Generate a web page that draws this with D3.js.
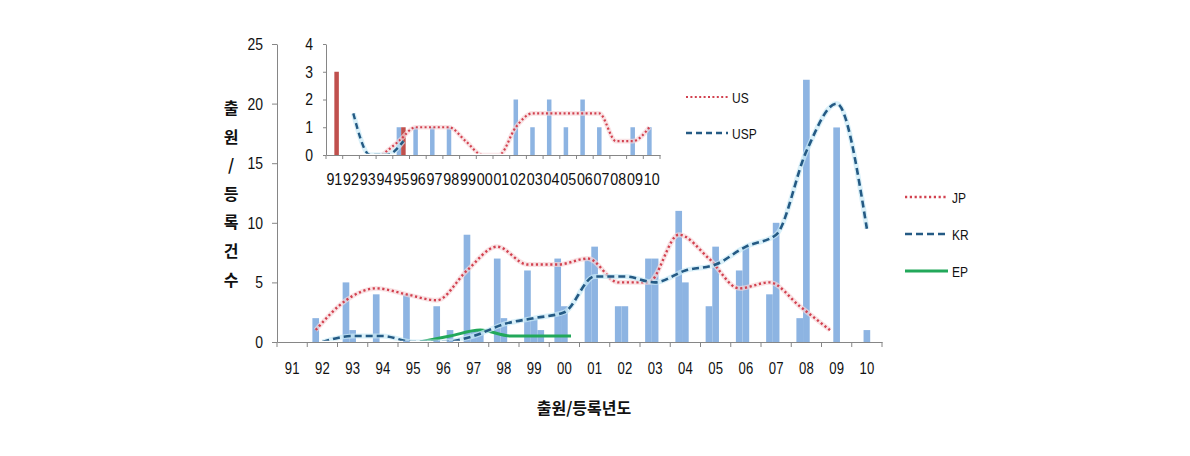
<!DOCTYPE html>
<html><head><meta charset="utf-8">
<script src="https://cdn.jsdelivr.net/npm/d3@7"></script>
<style>
html,body{margin:0;padding:0;background:#fff;}
svg{display:block;}
.num{font-family:"Liberation Sans","DejaVu Sans",sans-serif;fill:#111;}
.kr{font-family:"Noto Sans CJK KR","Noto Sans",sans-serif;fill:#111;font-weight:bold;}
</style></head>
<body><svg id="c" width="1190" height="456"></svg>
<script>
// ---- main chart data ----
const years = ["91","92","93","94","95","96","97","98","99","00","01","02","03","04","05","06","07","08","09","10"];
const seriesNames = ["JP","KR","EP"];
const jpBars = [0,2,5,4,4,3,9,7,6,7,7,3,7,11,3,6,4,2,0,null];
const krBars = [0,0,1,0,0,0,1,2,2,3,8,3,7,5,8,8,10,22,18,1];
const epBars = [null,null,null,0,0,1,1,0,1,0,null,null,null,null,null,null,null,null,null,null];
const jpLine = [null,1,3.5,4.5,4,3.5,6,8,6.5,6.5,7,5,5,9,7,4.5,5,3,1,null];
const krLine = [null,0,0.5,0.5,0,0,0.5,1.5,2,2.5,5.5,5.5,5,6,6.5,8,9,16,20,9.5];
const epLine = [null,null,null,null,0,0.5,1,0.5,0.5,0.5,null,null,null,null,null,null,null,null,null,null];
const yTicks = [0,5,10,15,20,25];
const yTitle = ["출","원","/","등","록","건","수"];
const xTitle = "출원/등록년도";
// ---- inset data ----
const insetNames = ["US","USP"];
const usBars  = [0,0,0,0,1,1,1,1,0,0,0,2,1,2,1,2,1,0,1,1];
const uspBars = [3,0,0,0,1,null,null,null,null,null,null,null,null,null,null,null,null,null,null,null];
const usLine  = [null,null,null,0,0.5,1,1,1,0.5,0,0,1,1.5,1.5,1.5,1.5,1.5,0.5,0.5,1];
const uspLine = [null,1.5,0,0,0.5,null,null,null,null,null,null,null,null,null,null,null,null,null,null,null];
const insetYTicks = [0,1,2,3,4];

const BAR = "#8DB4E2", RED = "#C0504D", AXIS = "#868686";
const JPC = "#D2414F", KRC = "#245A84", EPC = "#22A85A";

const svg = d3.select("#c");

function narrow(sel, f) {
  sel.each(function () {
    const w = this.getComputedTextLength();
    d3.select(this).attr("textLength", w * f).attr("lengthAdjust", "spacingAndGlyphs");
  });
}

// ================= MAIN =================
const x0 = d3.scaleBand().domain(years).range([277, 882]).paddingInner(0.34).paddingOuter(0.17);
const x1 = d3.scaleBand().domain(seriesNames).range([0, x0.bandwidth()]);
const y = d3.scaleLinear().domain([0, 25]).range([342, 44]);

const barSets = [["JP", jpBars], ["KR", krBars], ["EP", epBars]];
const gBars = svg.append("g");
barSets.forEach(([s, arr]) => {
  gBars.selectAll(null).data(years.map((yr, i) => ({yr, v: arr[i]})).filter(d => d.v))
    .enter().append("rect")
    .attr("x", d => x0(d.yr) + x1(s))
    .attr("width", x1.bandwidth())
    .attr("y", d => y(d.v))
    .attr("height", d => y(0) - y(d.v))
    .attr("fill", BAR);
});

svg.append("defs").html(
  '<clipPath id="mclip"><rect x="270" y="20" width="640" height="' + (y(0) - 21.2) + '"/></clipPath>' +
  '<clipPath id="iclip"><rect x="320" y="30" width="350" height="' + (155 - 31.2) + '"/></clipPath>');

function drawLine(g, xs, ys, names, s, arr, color, width, dash, halo) {
  const pts = years.map((yr, i) => ({yr, v: arr[i]})).filter(d => d.v !== null);
  const gen = d3.line().x(d => xs(d.yr) + names(s) + names.bandwidth() / 2).y(d => ys(d.v))
    .curve(d3.curveMonotoneX);
  if (halo) g.append("path").attr("d", gen(pts)).attr("fill", "none").attr("stroke", halo)
      .attr("stroke-width", width + 2.5).attr("stroke-opacity", 0.7);
  g.append("path").attr("d", gen(pts)).attr("fill", "none").attr("stroke", color)
    .attr("stroke-width", width).attr("stroke-dasharray", dash);
}

const gLines = svg.append("g").attr("clip-path", "url(#mclip)");
drawLine(gLines, x0, y, x1, "EP", epLine, EPC, 3, null, null);
drawLine(gLines, x0, y, x1, "JP", jpLine, JPC, 2.4, "2.2 2.6", "#F7D6D8");
drawLine(gLines, x0, y, x1, "KR", krLine, KRC, 2.6, "7 4", "#C9EAF7");

// axes
const yAx = svg.append("g").attr("transform", "translate(277,0)")
  .call(d3.axisLeft(y).tickValues(yTicks).tickSize(5).tickSizeOuter(0).tickPadding(9));
yAx.selectAll("text").attr("class", "num").style("font-size", "17px");
narrow(yAx.selectAll("text"), 0.82);
const xAx = svg.append("g").attr("transform", "translate(0,342)")
  .call(d3.axisBottom(x0).tickSize(0).tickSizeOuter(0).tickPadding(21));
xAx.selectAll("text").attr("class", "num").style("font-size", "16px");
narrow(xAx.selectAll("text"), 0.82);
xAx.selectAll(".tick line").remove();
xAx.selectAll(null).data(d3.range(years.length + 1)).enter().append("line")
  .attr("x1", i => x0.range()[0] + i * x0.step()).attr("x2", i => x0.range()[0] + i * x0.step())
  .attr("y1", 0).attr("y2", 5).attr("stroke", AXIS);
[yAx, xAx].forEach(a => { a.select(".domain").attr("stroke", AXIS); a.selectAll(".tick line").attr("stroke", AXIS); });

// titles
svg.append("text").attr("class", "kr").attr("x", 584).attr("y", 414).attr("text-anchor", "middle")
  .style("font-size", "16px").text(xTitle);
svg.selectAll(null).data(yTitle).enter().append("text").attr("class", "kr")
  .attr("x", 231).attr("y", (d, i) => 114 + i * 28.6).attr("text-anchor", "middle")
  .style("font-size", "16px").text(d => d);

// main legend
const legMain = [["JP", JPC, "2.2 2.6", 2.4, 197], ["KR", KRC, "7 4", 2.6, 234], ["EP", EPC, null, 3, 271]];
legMain.forEach(([n, c, dash, w, ly]) => {
  svg.append("line").attr("x1", 905).attr("x2", 948).attr("y1", ly).attr("y2", ly)
    .attr("stroke", c).attr("stroke-width", w).attr("stroke-dasharray", dash);
  const t = svg.append("text").attr("class", "num").attr("x", 952).attr("y", ly + 5.5).style("font-size", "15px").text(n);
  narrow(t, 0.8);
});

// ================= INSET =================
const ix0 = d3.scaleBand().domain(years).range([326, 660]).paddingInner(0.46).paddingOuter(0.23);
const ix1 = d3.scaleBand().domain(insetNames).range([0, ix0.bandwidth()]);
const iy = d3.scaleLinear().domain([0, 4]).range([155, 44]);

const insetSets = [["US", usBars, BAR], ["USP", uspBars, RED]];
const gi = svg.append("g");
insetSets.forEach(([s, arr, col]) => {
  gi.selectAll(null).data(years.map((yr, i) => ({yr, v: arr[i]})).filter(d => d.v))
    .enter().append("rect")
    .attr("x", d => ix0(d.yr) + ix1(s))
    .attr("width", ix1.bandwidth())
    .attr("y", d => iy(d.v))
    .attr("height", d => iy(0) - iy(d.v))
    .attr("fill", col);
});
const giL = svg.append("g").attr("clip-path", "url(#iclip)");
drawLine(giL, ix0, iy, ix1, "US", usLine, JPC, 2.2, "2 2.4", "#F7D6D8");
drawLine(giL, ix0, iy, ix1, "USP", uspLine, KRC, 2.4, "6 4", "#C9EAF7");

const iyAx = svg.append("g").attr("transform", "translate(326,0)")
  .call(d3.axisLeft(iy).tickValues(insetYTicks).tickFormat(d3.format("d")).tickSize(3).tickSizeOuter(0).tickPadding(10));
iyAx.selectAll("text").attr("class", "num").style("font-size", "17px");
narrow(iyAx.selectAll("text"), 0.82);
const ixAx = svg.append("g").attr("transform", "translate(0,155)")
  .call(d3.axisBottom(ix0).tickSize(0).tickSizeOuter(0).tickPadding(18));
ixAx.selectAll("text").attr("class", "num").style("font-size", "17px");
narrow(ixAx.selectAll("text"), 0.84);
ixAx.selectAll(".tick line").remove();
ixAx.selectAll(null).data(d3.range(years.length + 1)).enter().append("line")
  .attr("x1", i => ix0.range()[0] + i * ix0.step()).attr("x2", i => ix0.range()[0] + i * ix0.step())
  .attr("y1", 0).attr("y2", 4).attr("stroke", AXIS);
[iyAx, ixAx].forEach(a => { a.select(".domain").attr("stroke", AXIS); a.selectAll(".tick line").attr("stroke", AXIS); });

// inset legend
const legIn = [["US", JPC, "2 2.4", 2.2, 97], ["USP", KRC, "6 4", 2.4, 133]];
legIn.forEach(([n, c, dash, w, ly]) => {
  svg.append("line").attr("x1", 686).attr("x2", 728).attr("y1", ly).attr("y2", ly)
    .attr("stroke", c).attr("stroke-width", w).attr("stroke-dasharray", dash);
  const t = svg.append("text").attr("class", "num").attr("x", 732).attr("y", ly + 5.5).style("font-size", "15px").text(n);
  narrow(t, 0.8);
});
</script></body></html>
